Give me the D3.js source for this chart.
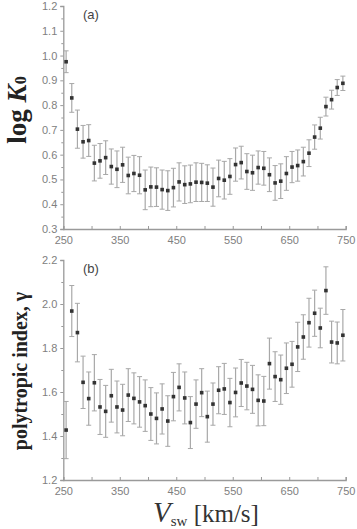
<!DOCTYPE html>
<html lang="en">
<head>
<meta charset="UTF-8">
<title>log K0 and polytropic index vs Vsw</title>
<script src="https://d3js.org/d3.v7.min.js"></script>
<style>
  body { margin: 0; background: #fff; }
  svg { display: block; }
</style>
</head>
<body>
<div class="canvas"></div>
<script>
// solar wind speed bins [km/s]
let vsw = [255, 265, 275, 285, 295, 305, 315, 325, 335, 345,
           355, 365, 375, 385, 395, 405, 415, 425, 435, 445,
           455, 465, 475, 485, 495, 505, 515, 525, 535, 545,
           555, 565, 575, 585, 595, 605, 615, 625, 635, 645,
           655, 665, 675, 685, 695, 705, 715, 725, 735, 745];

// panel (a): log K0 and its error
let logK0 = [0.975, 0.829, 0.703, 0.652, 0.657, 0.566, 0.575, 0.588, 0.552, 0.541,
             0.559, 0.516, 0.524, 0.517, 0.458, 0.470, 0.469, 0.459, 0.455, 0.467,
             0.490, 0.479, 0.482, 0.489, 0.488, 0.485, 0.469, 0.504, 0.497, 0.512,
             0.560, 0.568, 0.532, 0.527, 0.548, 0.545, 0.519, 0.486, 0.493, 0.524,
             0.550, 0.556, 0.572, 0.606, 0.671, 0.707, 0.794, 0.822, 0.871, 0.888];
let logK0Err = [0.044, 0.058, 0.077, 0.066, 0.064, 0.072, 0.070, 0.068, 0.071, 0.074,
                0.071, 0.074, 0.073, 0.075, 0.080, 0.080, 0.078, 0.079, 0.080, 0.078,
                0.077, 0.076, 0.076, 0.078, 0.077, 0.074, 0.077, 0.074, 0.076, 0.072,
                0.067, 0.066, 0.072, 0.071, 0.067, 0.068, 0.068, 0.070, 0.070, 0.068,
                0.063, 0.063, 0.058, 0.054, 0.049, 0.044, 0.038, 0.038, 0.032, 0.029];

// panel (b): polytropic index and its error
let gamma = [1.427, 1.968, 1.870, 1.644, 1.570, 1.642, 1.532, 1.512, 1.583, 1.532,
             1.518, 1.586, 1.571, 1.555, 1.538, 1.500, 1.480, 1.523, 1.468, 1.579,
             1.621, 1.573, 1.461, 1.545, 1.597, 1.488, 1.545, 1.608, 1.614, 1.552,
             1.598, 1.641, 1.627, 1.612, 1.562, 1.559, 1.729, 1.670, 1.656, 1.708,
             1.726, 1.805, 1.850, 1.915, 1.958, 1.891, 2.061, 1.827, 1.823, 1.858];
let gammaErr = [0.130, 0.116, 0.133, 0.119, 0.121, 0.128, 0.125, 0.118, 0.120, 0.118,
                0.117, 0.120, 0.116, 0.115, 0.117, 0.120, 0.116, 0.114, 0.115, 0.110,
                0.107, 0.118, 0.118, 0.110, 0.109, 0.116, 0.096, 0.107, 0.116, 0.110,
                0.111, 0.107, 0.108, 0.109, 0.116, 0.112, 0.116, 0.113, 0.112, 0.115,
                0.104, 0.112, 0.101, 0.111, 0.105, 0.090, 0.108, 0.095, 0.095, 0.117];

// tick values
let xTicks = [250, 350, 450, 550, 650, 750];
let xMinor = [300, 400, 500, 600, 700];
let yTicksA = [0.3, 0.4, 0.5, 0.6, 0.7, 0.8, 0.9, 1.0, 1.1, 1.2];
let yTicksB = [1.2, 1.4, 1.6, 1.8, 2.0, 2.2];

let W = 357, H = 529;
let svg = d3.select(".canvas").append("svg")
    .attr("width", W)
    .attr("height", H);

let x = d3.scaleLinear().domain([250, 750]).range([63.3, 345.7]);

let axisColor = "#9a9a9a";
let labelColor = "#808080";
let barColor = "#a8a8a8";
let dotColor = "#333";

function panel(yDomain, yRange, vals, errs, yTicks, yMinorStep, tag, fmt) {
    let y = d3.scaleLinear().domain(yDomain).range(yRange);
    let g = svg.append("g");

    // x axis (ticks pointing inside)
    g.append("g")
        .attr("transform", "translate(0," + yRange[0] + ")")
        .call(d3.axisBottom(x).tickValues(xTicks).tickSize(-3).tickPadding(7).tickFormat(d3.format("d")));
    g.append("g")
        .attr("transform", "translate(0," + yRange[0] + ")")
        .call(d3.axisBottom(x).tickValues(xMinor).tickSize(-3).tickFormat(""))
        .select(".domain").remove();

    // y axis (ticks outside) with minor ticks
    let minor = d3.range(yDomain[0], yDomain[1] + 1e-9, yMinorStep)
        .filter(v => !yTicks.some(t => Math.abs(t - v) < 1e-6));
    g.append("g")
        .attr("transform", "translate(" + x.range()[0] + ",0)")
        .call(d3.axisLeft(y).tickValues(yTicks).tickSize(3).tickPadding(3).tickFormat(d3.format(fmt)));
    g.append("g")
        .attr("transform", "translate(" + x.range()[0] + ",0)")
        .call(d3.axisLeft(y).tickValues(minor).tickSize(2).tickFormat(""))
        .select(".domain").remove();

    g.selectAll(".domain").attr("stroke", axisColor).attr("stroke-width", 1.3);
    g.selectAll(".tick line").attr("stroke", axisColor).attr("stroke-width", 1);
    g.selectAll(".tick text")
        .attr("fill", labelColor)
        .style("font-family", "'Liberation Sans', Arial, sans-serif")
        .style("font-size", "11px");

    // error bars
    let eb = g.append("g");
    eb.selectAll(".err").data(vsw).enter().append("line")
        .attr("x1", d => x(d)).attr("x2", d => x(d))
        .attr("y1", (d, i) => y(vals[i] + errs[i]))
        .attr("y2", (d, i) => y(vals[i] - errs[i]))
        .attr("stroke", barColor).attr("stroke-width", 1.2);
    [1, -1].forEach(s => {
        eb.selectAll(".cap" + s).data(vsw).enter().append("line")
            .attr("x1", d => x(d) - 2.5).attr("x2", d => x(d) + 2.5)
            .attr("y1", (d, i) => y(vals[i] + s * errs[i]))
            .attr("y2", (d, i) => y(vals[i] + s * errs[i]))
            .attr("stroke", barColor).attr("stroke-width", 1);
    });

    // points
    g.selectAll(".pt").data(vsw).enter().append("rect")
        .attr("x", d => x(d) - 1.8)
        .attr("y", (d, i) => y(vals[i]) - 1.8)
        .attr("width", 3.6).attr("height", 3.6)
        .attr("fill", dotColor);

    g.append("text")
        .attr("x", 83).attr("y", yRange[1] + 13)
        .attr("fill", "#444")
        .style("font-family", "'Liberation Sans', Arial, sans-serif")
        .style("font-size", "13px")
        .text(tag);
    return g;
}

panel([0.3, 1.2], [229, 6], logK0, logK0Err, yTicksA, 0.05, "(a)", ".1f");
panel([1.2, 2.2], [480, 260], gamma, gammaErr, yTicksB, 0.1, "(b)", ".1f");

// y label (a)
let la = svg.append("text")
    .attr("transform", "translate(26,110) rotate(-90)")
    .attr("text-anchor", "middle")
    .attr("fill", "#222")
    .style("font-family", "'Liberation Serif', 'Times New Roman', serif")
    .style("font-weight", "bold")
    .style("font-size", "27px");
la.append("tspan").text("log ");
la.append("tspan").style("font-style", "italic").text("K");
la.append("tspan").style("font-size", "16px").text("0");

// y label (b)
svg.append("text")
    .attr("transform", "translate(27,371) rotate(-90)")
    .attr("text-anchor", "middle")
    .attr("fill", "#222")
    .style("font-family", "'Liberation Serif', 'Times New Roman', serif")
    .style("font-weight", "bold")
    .style("font-size", "20px")
    .text("polytropic index, γ");

// x label
let xl = svg.append("text")
    .attr("x", 153).attr("y", 522)
    .attr("fill", "#333")
    .style("font-family", "'Liberation Serif', 'Times New Roman', serif");
xl.append("tspan").style("font-style", "italic").style("font-size", "29px").text("V");
xl.append("tspan").attr("dy", 4).style("font-size", "15px").text("sw");
xl.append("tspan").attr("dy", -4).style("font-size", "25px").text(" [km/s]");
</script>
</body>
</html>
